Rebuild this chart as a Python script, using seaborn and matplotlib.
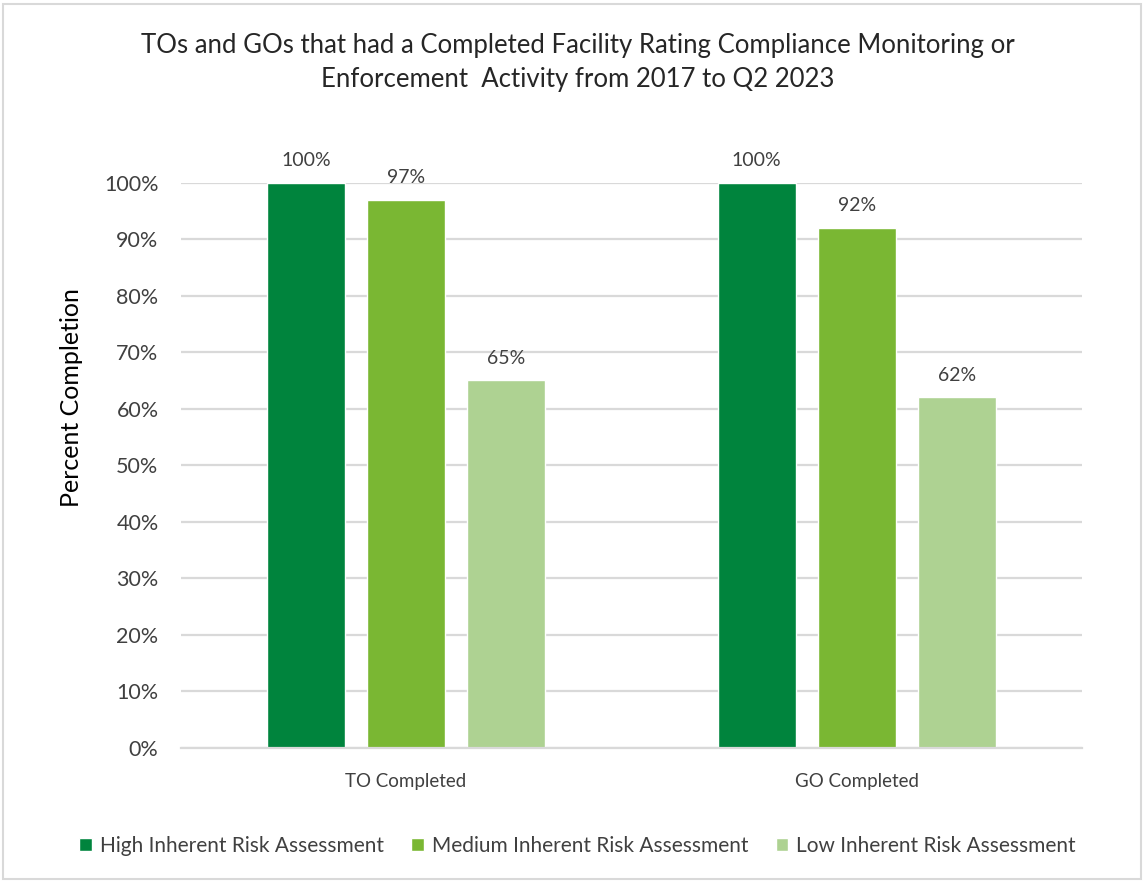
import numpy as np
import pandas as pd
import matplotlib
matplotlib.use('Agg')
import matplotlib.pyplot as plt
import seaborn as sns
from matplotlib.patches import Rectangle

# data
groups = ['TO Completed', 'GO Completed']
risk_levels = ['High Inherent Risk Assessment', 'Medium Inherent Risk Assessment',
               'Low Inherent Risk Assessment']
high_vals = [1.00, 1.00]
medium_vals = [0.97, 0.92]
low_vals = [0.65, 0.62]
ytick_vals = [0, 0.1, 0.2, 0.3, 0.4, 0.5, 0.6, 0.7, 0.8, 0.9, 1.0]

colors = ['#00843D', '#7AB733', '#AED292']

df = pd.DataFrame({
    'group': groups * 3,
    'risk': [risk_levels[0]] * 2 + [risk_levels[1]] * 2 + [risk_levels[2]] * 2,
    'value': high_vals + medium_vals + low_vals,
})

sns.set_theme(style='white')
plt.rcParams['font.family'] = ['Lato', 'DejaVu Sans']

fig = plt.figure(figsize=(11.44, 8.82), dpi=100)
ax = fig.add_axes([0.158, 0.152, 0.788, 0.641])

sns.barplot(data=df, x='group', y='value', hue='risk', hue_order=risk_levels,
            palette=colors, width=0.667, gap=0.22, saturation=1, ax=ax,
            legend=True)

ax.set_ylim(0, 1.0)
ax.set_xlim(-0.5, 1.5)
ax.set_yticks(ytick_vals)
ax.set_yticklabels([f'{int(round(v * 100))}%' for v in ytick_vals], fontsize=15.5, color='#404040')
ax.tick_params(axis='x', labelsize=13.5, colors='#404040', pad=12)
ax.tick_params(axis='y', pad=16, length=0)
ax.yaxis.grid(True, color='#D9D9D9', linewidth=1.6)
ax.set_axisbelow(True)
for s in ['top', 'right', 'left']:
    ax.spines[s].set_visible(False)
ax.spines['bottom'].set_color('#D9D9D9')
ax.spines['bottom'].set_linewidth(1.6)
ax.set_xlabel('')
ax.set_ylabel('Percent Completion', fontsize=18, color='black')
ax.yaxis.set_label_coords(-0.108, 0.62)

for cont in ax.containers:
    ax.bar_label(cont, labels=[f'{int(round(v * 100))}%' for v in cont.datavalues],
                 padding=10, fontsize=14, color='#404040', clip_on=False)

handles, labels = ax.get_legend_handles_labels()
ax.legend_.remove()
fig.legend(handles, labels, loc='center', bbox_to_anchor=(0.505, 0.041), ncol=3,
           frameon=False, fontsize=15, handlelength=0.6, handleheight=0.6,
           handletextpad=0.4, columnspacing=1.3, labelcolor='#404040')

fig.suptitle('TOs and GOs that had a Completed Facility Rating Compliance Monitoring or\n'
             'Enforcement  Activity from 2017 to Q2 2023',
             x=0.505, y=0.963, fontsize=18.5, color='#262626', linespacing=1.45)

fig.patches.append(Rectangle((0.003, 0.003), 0.994, 0.992, transform=fig.transFigure,
                             fill=False, edgecolor='#D9D9D9', linewidth=1.5))

fig.savefig('out.png', dpi=100)
